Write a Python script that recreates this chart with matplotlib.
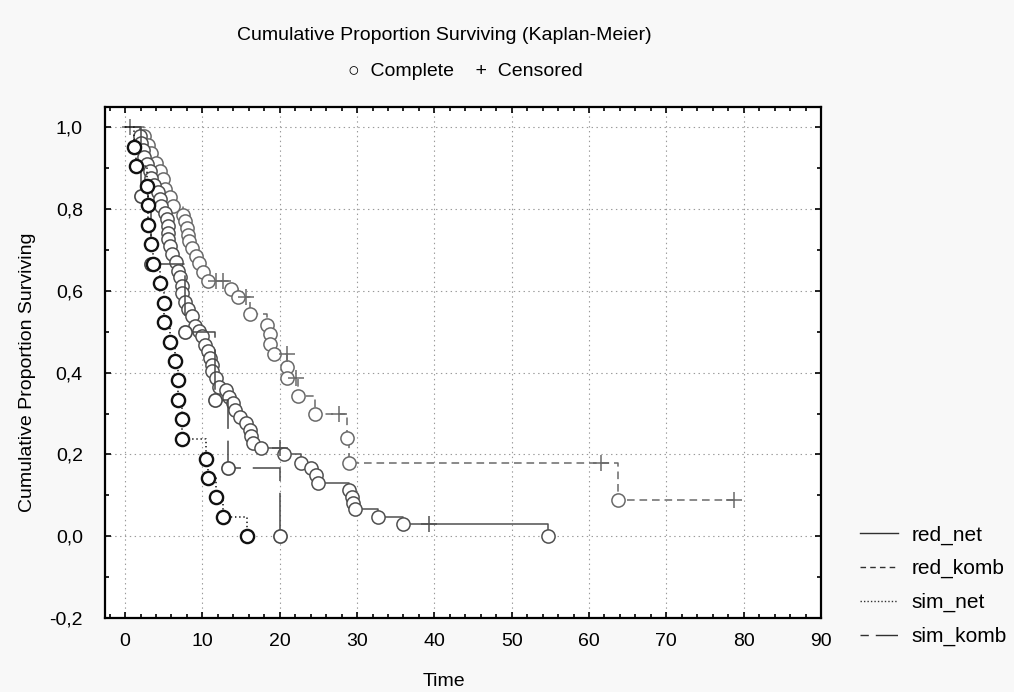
import matplotlib
matplotlib.use("Agg")
import matplotlib.pyplot as plt
from matplotlib.lines import Line2D
from matplotlib.ticker import MultipleLocator, FixedLocator

plt.rcParams['font.family'] = ['Liberation Sans', 'DejaVu Sans']
plt.rcParams['lines.scale_dashes'] = False

# Kaplan-Meier data
# time, survival after the observation, 1 = complete, 0 = censored
red_net_t = [1.9, 2.0, 2.3, 2.5, 2.8, 3.2, 3.4, 3.8, 4.2, 4.5, 4.7, 5.1, 5.4, 5.5, 5.5,
             5.5, 5.8, 6.1, 6.6, 6.8, 7.1, 7.4, 7.4, 7.7, 8.1, 8.6, 9.0, 9.6, 10.0, 10.3,
             10.7, 11.0, 11.2, 11.3, 11.8, 12.1, 13.1, 13.5, 13.9, 14.2, 14.8, 15.7, 16.1,
             16.3, 16.5, 17.6, 20.0, 20.6, 22.8, 24.1, 24.7, 24.9, 29.0, 29.3, 29.5, 29.7,
             32.7, 35.9, 39.3, 54.7]
red_net_s = [.978, .961, .944, .927, .910, .893, .876, .859, .841, .824, .807, .790, .775,
             .758, .743, .726, .709, .690, .670, .648, .633, .612, .596, .574, .555, .538,
             .514, .501, .489, .469, .452, .437, .420, .403, .388, .366, .358, .341, .327,
             .310, .292, .278, .261, .244, .229, .216, .216, .200, .180, .167, .150, .131,
             .114, .097, .082, .066, .048, .030, .030, 0.0]
red_net_d = [1] * 46 + [0] + [1] * 11 + [0, 1]

red_komb_t = [0.6, 2.5, 2.9, 3.3, 4.0, 4.5, 4.9, 5.1, 5.8, 6.2, 7.5, 7.7, 8.0, 8.1, 8.3,
              8.7, 9.2, 9.6, 10.1, 10.7, 11.8, 12.6, 13.7, 14.6, 15.7, 16.1, 18.3, 18.7,
              18.7, 19.3, 20.9, 20.9, 21.0, 22.1, 22.4, 24.5, 27.7, 28.7, 29.0, 61.6,
              63.7, 78.8]
red_komb_s = [1.0, .979, .958, .937, .914, .894, .873, .849, .831, .808, .787, .770, .754,
              .738, .722, .706, .686, .668, .647, .624, .624, .624, .604, .585, .585, .543,
              .516, .494, .470, .445, .445, .413, .388, .388, .344, .300, .300, .240, .180,
              .180, .089, .089]
red_komb_d = [0] + [1] * 19 + [0, 0, 1, 1, 0, 1, 1, 1, 1, 1, 0, 1, 1, 0, 1, 1, 0, 1, 1,
                               0, 1, 0]

sim_net_t = [1.2, 1.4, 2.8, 3.0, 3.0, 3.3, 3.6, 4.5, 5.0, 5.0, 5.8, 6.4, 6.8, 6.9, 7.3,
             7.4, 10.5, 10.7, 11.8, 12.6, 15.8]
sim_net_s = [.952, .905, .857, .810, .762, .714, .667, .619, .571, .524, .476, .429, .381,
             .333, .286, .238, .190, .143, .095, .048, 0.0]
sim_net_d = [1] * 21

sim_komb_t = [2.0, 3.4, 7.7, 11.6, 13.3, 20.0]
sim_komb_s = [.833, .667, .500, .333, .167, 0.0]
sim_komb_d = [1] * 6

names = ['red_net', 'red_komb', 'sim_net', 'sim_komb']
y_ticks = [-0.2, 0.0, 0.2, 0.4, 0.6, 0.8, 1.0]
y_tick_labels = ['-0,2', '0,0', '0,2', '0,4', '0,6', '0,8', '1,0']
x_ticks = [0, 10, 20, 30, 40, 50, 60, 70, 80, 90]

W, H = 1014, 692
fig = plt.figure(figsize=(W / 100, H / 100), dpi=100, facecolor='#f8f8f8')
ax = fig.add_axes([105 / W, 74 / H, 716 / W, 511 / H])
ax.set_facecolor('white')

styles = {
    'red_komb': dict(color='#6a6a6a', ls=(0, (5.5, 3.5)), mec='#6a6a6a', mew=1.1),
    'red_net': dict(color='#505050', ls='-', mec='#505050', mew=1.1),
    'sim_komb': dict(color='#484848', ls=(0, (29, 8.5)), mec='#484848', mew=1.2),
    'sim_net': dict(color='#111111', ls=(0, (1, 2)), mec='#111111', mew=1.7),
}
series = {
    'red_net': (red_net_t, red_net_s, red_net_d),
    'red_komb': (red_komb_t, red_komb_s, red_komb_d),
    'sim_net': (sim_net_t, sim_net_s, sim_net_d),
    'sim_komb': (sim_komb_t, sim_komb_s, sim_komb_d),
}

for i, name in enumerate(['red_komb', 'red_net', 'sim_komb', 'sim_net']):
    t, s, d = series[name]
    st = styles[name]
    ax.step([0] + t, [1.0] + s, where='post', color=st['color'], ls=st['ls'], lw=1.1,
            zorder=2 + i)
    ct = [a for a, f in zip(t, d) if f == 1]
    cs = [b for b, f in zip(s, d) if f == 1]
    ax.plot(ct, cs, 'o', ms=9.5, mfc='white', mec=st['mec'], mew=st['mew'], zorder=2 + i)
    pt = [a for a, f in zip(t, d) if f == 0]
    ps = [b for b, f in zip(s, d) if f == 0]
    ax.plot(pt, ps, '+', ms=11, mec=st['mec'], mew=1.1, zorder=2 + i)

ax.set_xlim(-2.6, 90)
ax.set_ylim(-0.2, 1.05)
ax.xaxis.set_major_locator(FixedLocator(x_ticks))
ax.xaxis.set_minor_locator(MultipleLocator(2))
ax.yaxis.set_major_locator(FixedLocator(y_ticks))
ax.yaxis.set_minor_locator(MultipleLocator(0.1))
ax.set_yticklabels(y_tick_labels)
ax.tick_params(which='both', direction='in', top=True, right=True, labelsize=14,
               width=1.2)
ax.tick_params(axis='y', pad=16)
ax.tick_params(axis='x', pad=11)
ax.tick_params(which='major', length=4)
ax.tick_params(which='minor', length=3)
ax.grid(True, which='major', ls=(0, (1, 2.5)), color='#9a9a9a', lw=0.8)
for sp in ax.spines.values():
    sp.set_linewidth(1.6)

fig.text(444 / W, 1 - 36 / H, 'Cumulative Proportion Surviving (Kaplan-Meier)',
         ha='center', va='center', fontsize=14)
fig.text(465 / W, 1 - 71 / H, '\u25cb  Complete    +  Censored',
         ha='center', va='center', fontsize=14)
fig.text(444 / W, 1 - 681 / H, 'Time', ha='center', va='center', fontsize=14)
fig.text(28 / W, 1 - 372 / H, 'Cumulative Proportion Surviving', rotation=90,
         ha='center', va='center', fontsize=14)

handles = [
    Line2D([], [], color='#303030', ls='-', lw=1.0),
    Line2D([], [], color='#303030', ls=(0, (4, 3)), lw=1.0),
    Line2D([], [], color='#303030', ls=(0, (1, 1.5)), lw=1.0),
    Line2D([], [], color='#303030', ls=(0, (6, 5, 16, 10)), lw=1.0),
]
fig.legend(handles, names, loc='upper left', bbox_to_anchor=(852 / W, 1 - 517 / H),
           frameon=False, fontsize=15, handlelength=1.8, handletextpad=0.67,
           labelspacing=0.7, borderaxespad=0)

fig.savefig('out.png', dpi=100, facecolor=fig.get_facecolor())
